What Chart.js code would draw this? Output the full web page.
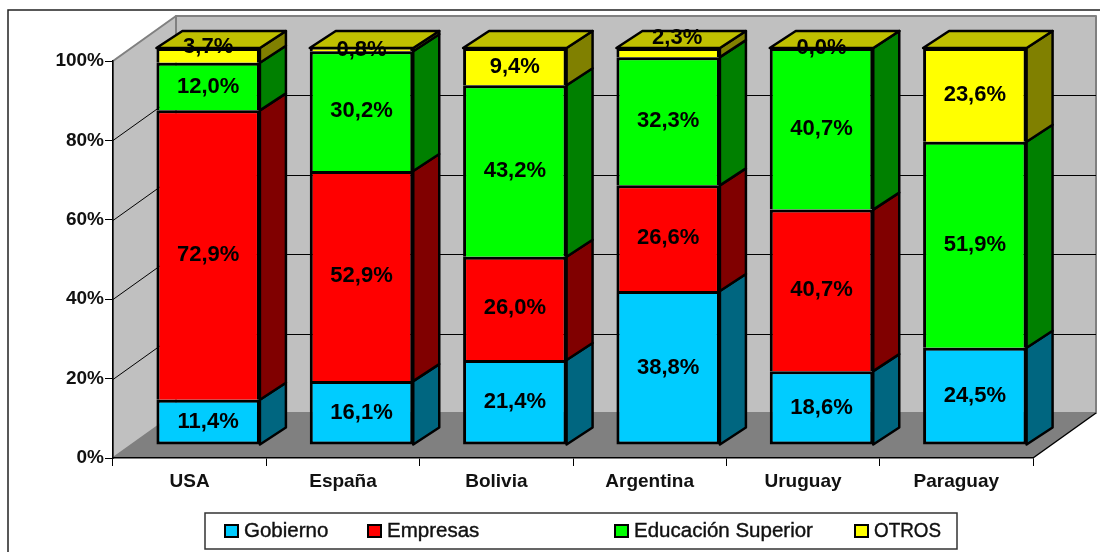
<!DOCTYPE html>
<html>
<head>
<meta charset="utf-8">
<style>
  html, body { margin: 0; padding: 0; background: #fff; }
  canvas { display: block; }
</style>
<script src="https://cdn.jsdelivr.net/npm/chart.js@4"></script>
</head>
<body>
<canvas id="chart" width="1100" height="552"></canvas>
<script>
// Values
const countries = ['USA', 'España', 'Bolivia', 'Argentina', 'Uruguay', 'Paraguay'];
const gobierno = [11.4, 16.1, 21.4, 38.8, 18.6, 24.5];
const empresas = [72.9, 52.9, 26.0, 26.6, 40.7, null];
const educacion = [12.0, 30.2, 43.2, 32.3, 40.7, 51.9];
const otros = [3.7, 0.8, 9.4, 2.3, 0.0, 23.6];
const seriesNames = ['Gobierno', 'Empresas', 'Educación Superior', 'OTROS'];
const yTicks = [0, 20, 40, 60, 80, 100];

const FACE = ['#00CCFF', '#FF0000', '#00FF00', '#FFFF00'];
const SIDE = ['#006680', '#800000', '#008000', '#808000'];
const TOP = '#C0C000';

// 3D look: bars stand inside the box, walls sit further back
const BAR_OFF = { x: 18.5, y: -13 };
const BAR_DEPTH = { x: 26, y: -17 };
const WALL = { x: 63, y: -45 };

function poly(ctx, pts, fill, stroke, lw) {
    ctx.beginPath();
    pts.forEach((p, i) => i ? ctx.lineTo(p[0], p[1]) : ctx.moveTo(p[0], p[1]));
    ctx.closePath();
    if (fill) { ctx.fillStyle = fill; ctx.fill(); }
    if (stroke) { ctx.strokeStyle = stroke; ctx.lineWidth = lw; ctx.lineJoin = 'round'; ctx.stroke(); }
}

// Frame, walls, floor and grid behind the bars
const boxPlugin = {
    id: 'box',
    beforeDraw(chart) {
        const ctx = chart.ctx;
        const { left, right, top, bottom } = chart.chartArea;
        ctx.save();
        ctx.strokeStyle = '#222';
        ctx.lineWidth = 1.5;
        ctx.beginPath();
        ctx.moveTo(8, 552);
        ctx.lineTo(8, 10);
        ctx.lineTo(1100, 10);
        ctx.stroke();
        // back wall and left wall
        poly(ctx, [[left + WALL.x, top + WALL.y], [right + WALL.x, top + WALL.y],
            [right + WALL.x, bottom + WALL.y], [left + WALL.x, bottom + WALL.y]], '#C0C0C0', '#808080', 2);
        poly(ctx, [[left, top], [left + WALL.x, top + WALL.y],
            [left + WALL.x, bottom + WALL.y], [left, bottom]], '#C0C0C0', '#808080', 2);
        // grid lines run up the left wall then along the back
        const yScale = chart.scales.y;
        ctx.strokeStyle = '#000';
        ctx.lineWidth = 1;
        yScale.ticks.forEach(t => {
            if (t.value === 0 || t.value === 100) return;
            const y = Math.round(yScale.getPixelForValue(t.value)) + 0.5;
            ctx.beginPath();
            ctx.moveTo(left, y);
            ctx.lineTo(left + WALL.x, y + WALL.y);
            ctx.lineTo(right + WALL.x, y + WALL.y);
            ctx.stroke();
        });
        // floor
        poly(ctx, [[left, bottom], [right, bottom], [right + WALL.x, bottom + WALL.y], [left + WALL.x, bottom + WALL.y]], '#808080');
        ctx.strokeStyle = '#000';
        ctx.lineWidth = 1.5;
        ctx.beginPath();
        ctx.moveTo(right, bottom);
        ctx.lineTo(right + WALL.x, bottom + WALL.y);
        ctx.stroke();
        ctx.restore();
    },
    beforeDatasetsDraw(chart) {
        // bars are drawn by the library, shifted back into the box
        chart.ctx.save();
        chart.ctx.translate(BAR_OFF.x, BAR_OFF.y);
    },
    afterDatasetsDraw(chart) {
        const ctx = chart.ctx;
        const last = chart.data.datasets.length - 1;
        // side and top faces
        chart.data.datasets.forEach((ds, d) => {
            chart.getDatasetMeta(d).data.forEach((bar, i) => {
                if (ds.data[i] === null) return;
                const { x, y, base, width } = bar.getProps(['x', 'y', 'base', 'width'], true);
                const l = x - width / 2, r = x + width / 2;
                const dx = BAR_DEPTH.x, dy = BAR_DEPTH.y;
                poly(ctx, [[r, y], [r + dx, y + dy], [r + dx, base + dy], [r, base]], SIDE[d], '#000', 2.5);
                if (d === last) {
                    poly(ctx, [[l, y], [l + dx, y + dy], [r + dx, y + dy], [r, y]], TOP, '#000', 2.5);
                }
            });
        });
        // data labels; two of the OTROS labels were nudged in the original
        const nudgeOtros = [-8, 0, 0, -15, 0, 0];
        const nudgeOtrosX = [0, 0, 0, 9, 0, 0];
        ctx.fillStyle = '#000';
        ctx.font = 'bold 22px "Liberation Sans", Arial, sans-serif';
        ctx.textAlign = 'center';
        ctx.textBaseline = 'middle';
        chart.data.datasets.forEach((ds, d) => {
            chart.getDatasetMeta(d).data.forEach((bar, i) => {
                const v = ds.data[i];
                if (v === null) return;
                const { x, y, base } = bar.getProps(['x', 'y', 'base'], true);
                const ny = d === last ? nudgeOtros[i] : 0;
                const nx = d === last ? nudgeOtrosX[i] : 0;
                ctx.fillText(v.toFixed(1).replace('.', ',') + '%', x + nx, (y + base) / 2 + ny);
            });
        });
        ctx.restore();
    },
    afterDraw(chart) {
        // legend box with the original's uneven spacing
        const ctx = chart.ctx;
        const swatchX = [225, 368, 615, 855];
        const textW = [85, 93, 182, 67];
        ctx.save();
        ctx.fillStyle = '#fff';
        ctx.strokeStyle = '#333';
        ctx.lineWidth = 1.5;
        ctx.fillRect(205, 513, 752, 36);
        ctx.strokeRect(205, 513, 752, 36);
        ctx.font = '20.5px "Liberation Sans", Arial, sans-serif';
        ctx.textBaseline = 'middle';
        ctx.textAlign = 'left';
        seriesNames.forEach((name, i) => {
            ctx.fillStyle = FACE[i];
            ctx.strokeStyle = '#000';
            ctx.lineWidth = 2;
            ctx.fillRect(swatchX[i], 525, 13, 12);
            ctx.strokeRect(swatchX[i], 525, 13, 12);
            ctx.fillStyle = '#111';
            ctx.strokeStyle = '#111';
            ctx.lineWidth = 0.4;
            ctx.fillText(name, swatchX[i] + 19, 531, textW[i]);
            ctx.strokeText(name, swatchX[i] + 19, 531, textW[i]);
        });
        ctx.restore();
    }
};

const seriesValues = [gobierno, empresas, educacion, otros];

new Chart(document.getElementById('chart'), {
    type: 'bar',
    data: {
        labels: countries,
        datasets: seriesNames.map((name, i) => ({
            label: name,
            data: seriesValues[i],
            backgroundColor: FACE[i],
            borderColor: '#000',
            borderWidth: 3,
            // shared edges between stacked segments stay one line wide
            borderSkipped: i === 0 ? false : 'start',
            clip: false
        }))
    },
    options: {
        responsive: false,
        animation: false,
        barPercentage: 0.675,
        categoryPercentage: 1,
        layout: { padding: { top: 61, right: 67, left: 0, bottom: 0 } },
        plugins: {
            legend: { display: false },
            tooltip: { enabled: false }
        },
        scales: {
            x: {
                stacked: true,
                afterFit(scale) { scale.height = 94; },
                border: { color: '#000', width: 1.5 },
                grid: { drawOnChartArea: false, color: '#000', tickLength: 8, offset: true },
                ticks: {
                    color: '#111',
                    padding: 4,
                    maxRotation: 0,
                    font: { family: '"Liberation Sans", Arial, sans-serif', size: 19, weight: 'bold' }
                }
            },
            y: {
                stacked: true,
                min: 0,
                max: 100,
                afterFit(scale) { scale.width = 113; },
                afterBuildTicks(scale) { scale.ticks = yTicks.map(v => ({ value: v })); },
                border: { color: '#000', width: 1.5 },
                grid: { drawOnChartArea: false, color: '#000', tickLength: 8 },
                ticks: {
                    color: '#111',
                    padding: 1,
                    callback: v => v + '%',
                    font: { family: '"Liberation Sans", Arial, sans-serif', size: 19, weight: 'bold' }
                }
            }
        }
    },
    plugins: [boxPlugin]
});
</script>
</body>
</html>
